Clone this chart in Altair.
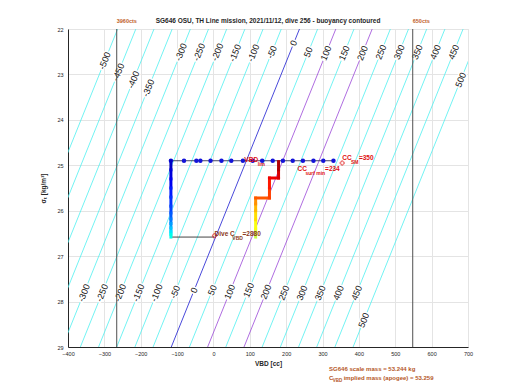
import altair as alt
import pandas as pd

# ---------------- data ----------------
# buoyancy contour levels [g]
levels = list(range(-500, 501, 50))
# VBD [cc] of the zero-buoyancy contour at sigma 22 (top) and 29 (bottom)
zero_vbd_top = 236.5
zero_vbd_bottom = -116.0
sigma_top = 22.0
sigma_bottom = 29.0
purple_levels = [100, 200]

# contour label rows (sigma where each label sits)
top_label_levels = list(range(-500, 501, 50))
top_label_sigma = [22.70, 22.95, 23.12, 23.30, 22.51, 22.51, 22.51, 22.53, 22.53, 22.51, 22.31,
                   22.51, 22.53, 22.53, 22.53, 22.51, 22.51, 22.51, 22.51, 22.51, 23.12]
bottom_label_levels = list(range(-300, 501, 50))
bottom_label_sigma = [27.81, 27.81, 27.81, 27.81, 27.81, 27.79, 27.75, 27.75, 27.79, 27.75,
                      27.79, 27.81, 27.81, 27.81, 27.81, 27.81, 28.41]

# VBD limits (counts marked at top)
limit_vbd = [-266, 548]
limit_text = ["3960cts", "650cts"]

# surface samples
surface_vbd = [-117, -81, -47, -36, -8, 22, 49, 81, 108, 134, 163, 191, 218, 246, 275, 302, 330]
surface_sigma = 24.90

# dive path: descent (VBD, sigma, time fraction)
descent_vbd = [-117] * 13
descent_sigma = [24.90, 25.10, 25.30, 25.50, 25.70, 25.90, 26.05, 26.18, 26.28, 26.38, 26.46, 26.52, 26.58]
descent_t = [0.07, 0.09, 0.11, 0.13, 0.14, 0.15, 0.17, 0.20, 0.24, 0.29, 0.34, 0.41, 0.50]
# climb
climb_vbd = [116, 116, 116, 116, 116, 116, 154, 154, 154, 179, 179, 179]
climb_sigma = [26.58, 26.40, 26.20, 26.00, 25.85, 25.72, 25.72, 25.50, 25.28, 25.28, 25.10, 24.92]
climb_t = [0.58, 0.62, 0.67, 0.72, 0.77, 0.83, 0.85, 0.87, 0.89, 0.91, 0.95, 0.99]

# dive C_VBD line
cvbd_line_vbd = [-117, 3]
cvbd_sigma = 26.58

# annotation markers
marker_vbd = [354, 240, 3]
marker_sigma = [24.95, 24.91, 26.55]
marker_shape = ["cross", "x", "cross"]

# annotation texts: text, vbd, sigma, size, colour
ann_text = ["VBD", "lim", "CC", "SM", "=350", "CC", "surf min", "=234",
            "Dive C", "VBD", "=2880",
            "SG646 scale mass = 53.244 kg", "C", "VBD", " implied mass (apogee) = 53.259"]
ann_vbd = [85, 122, 354, 378, 400, 231, 253, 307, 3, 52, 80, 318, 318, 328, 358]
ann_sigma = [24.88, 24.97, 24.83, 24.92, 24.83, 25.08, 25.16, 25.08, 26.51, 26.60, 26.51,
             29.48, 29.68, 29.74, 29.68]
ann_size = [6.5, 5, 6.5, 5, 6.5, 6.5, 5, 6.5, 6.5, 5, 6.5, 6, 6, 4.5, 6]
ann_color = ["#e01010"] * 8 + ["#8b3a1a"] * 3 + ["#b5571f"] * 4

title_text = "SG646 OSU, TH Line mission, 2021/11/12, dive 256 - buoyancy contoured"

# ---------------- tables ----------------
def contour_vbd(level, s):
    return level + zero_vbd_top + (zero_vbd_bottom - zero_vbd_top) * (s - sigma_top) / (sigma_bottom - sigma_top)

def kind(level):
    if level == 0:
        return "zero"
    if level in purple_levels:
        return "purple"
    return "cyan"

rows = []
for lv in levels:
    for s in (sigma_top, sigma_bottom):
        rows.append({"level": lv, "vbd": contour_vbd(lv, s), "sigma": s, "kind": kind(lv)})
contours = pd.DataFrame(rows)

lab_rows = []
for lv, s in zip(top_label_levels, top_label_sigma):
    lab_rows.append({"label": str(lv), "vbd": contour_vbd(lv, s), "sigma": s})
for lv, s in zip(bottom_label_levels, bottom_label_sigma):
    lab_rows.append({"label": str(lv), "vbd": contour_vbd(lv, s), "sigma": s})
labels = pd.DataFrame(lab_rows)

def segments(v, s, t):
    return pd.DataFrame({"vbd": v[:-1], "sigma": s[:-1], "vbd2": v[1:], "sigma2": s[1:], "t": t[:-1]})

seg = pd.concat([segments(descent_vbd, descent_sigma, descent_t),
                 segments(climb_vbd, climb_sigma, climb_t)], ignore_index=True)

surface = pd.DataFrame({"vbd": surface_vbd, "sigma": [surface_sigma] * len(surface_vbd)})
cvbd = pd.DataFrame({"vbd": cvbd_line_vbd, "sigma": [cvbd_sigma] * 2})
markers = pd.DataFrame({"vbd": marker_vbd, "sigma": marker_sigma, "shape": marker_shape})
ann = pd.DataFrame({"text": ann_text, "vbd": ann_vbd, "sigma": ann_sigma, "size": ann_size, "color": ann_color})
limits = pd.DataFrame({"vbd": limit_vbd, "text": limit_text, "sigma": [21.82, 21.82]})
title_df = pd.DataFrame({"vbd": [150], "sigma": [21.82], "text": [title_text]})

# ---------------- scales / axes ----------------
FONT = "Liberation Sans"
xs = alt.Scale(domain=[-400, 700], nice=False, zero=False)
ys = alt.Scale(domain=[22, 29], reverse=True, nice=False, zero=False)
xaxis = alt.Axis(values=list(range(-400, 701, 100)), title="VBD [cc]", format="d",
                 ticks=False, labelFontSize=5.5, labelColor="#262626", labelPadding=4,
                 labelFlush=False, labelOverlap=False,
                 titleFontSize=6.5, titleFontWeight="bold", titleColor="#262626", titlePadding=4,
                 labelFont=FONT, titleFont=FONT,
                 domainColor="#262626", gridColor="#e4e4e4", grid=True)
yaxis = alt.Axis(values=list(range(22, 30)), title="σₜ [kg/m³]", format="d",
                 ticks=False, labelFontSize=5.5, labelColor="#262626", labelPadding=5,
                 labelFlush=False, labelOverlap=False,
                 titleFontSize=6.5, titleFontWeight="bold", titleColor="#262626", titlePadding=10,
                 labelFont=FONT, titleFont=FONT,
                 domainColor="#262626", gridColor="#e4e4e4", grid=True)

def X(f="vbd"):
    return alt.X(f, type="quantitative", scale=xs, axis=xaxis)

def Y(f="sigma"):
    return alt.Y(f, type="quantitative", scale=ys, axis=yaxis)

jet = alt.Scale(domain=[0, 0.125, 0.375, 0.625, 0.875, 1.0],
                range=["#000080", "#0000ff", "#00ffff", "#ffff00", "#ff0000", "#800000"])

# ---------------- layers ----------------
contour_layer = alt.Chart(contours).mark_line(clip=True, strokeWidth=0.8).encode(
    x=X(), y=Y(), detail="level:N",
    color=alt.Color("kind:N", scale=alt.Scale(domain=["cyan", "zero", "purple"],
                                              range=["#4ef0f0", "#1a1ad0", "#9a48d8"]), legend=None),
)

label_halo = alt.Chart(labels).mark_text(angle=292, fontSize=9, font=FONT, fill="white",
                                         stroke="white", strokeWidth=3).encode(
    x=X(), y=Y(), text="label:N")
label_text = alt.Chart(labels).mark_text(angle=292, fontSize=9, font=FONT, color="#111111").encode(
    x=X(), y=Y(), text="label:N")

limit_lines = alt.Chart(limits).mark_rule(color="#505050", strokeWidth=1).encode(
    x=X(), y=alt.value(0), y2=alt.value(318))
limit_labels = alt.Chart(limits).mark_text(align="left", baseline="middle", fontSize=5.5,
                                           fontWeight="bold", font=FONT, color="#c0602a").encode(
    x=X(), y=Y(), text="text:N")
title_layer = alt.Chart(title_df).mark_text(align="center", baseline="middle", fontSize=6.5,
                                            fontWeight="bold", font=FONT, color="#262626").encode(
    x=X(), y=Y(), text="text:N")

cvbd_layer = alt.Chart(cvbd).mark_line(color="#303030", strokeWidth=0.9).encode(x=X(), y=Y())

path_layer = alt.Chart(seg).mark_rule(strokeWidth=3, strokeCap="square").encode(
    x=X(), y=Y(), x2="vbd2:Q", y2="sigma2:Q",
    color=alt.Color("t:Q", scale=jet, legend=None))

surf_line = alt.Chart(surface).mark_line(color="#303050", strokeWidth=0.9).encode(x=X(), y=Y())
surf_pts = alt.Chart(surface).mark_point(filled=True, color="#1414d8", size=20, opacity=1).encode(
    x=X(), y=Y())

marker_layer = alt.Chart(markers).mark_point(color="#e01010", size=18, strokeWidth=0.9).encode(
    x=X(), y=Y(), shape=alt.Shape("shape:N", scale=None))

ann_layer = alt.Chart(ann).mark_text(align="left", baseline="middle", font=FONT, fontWeight="bold").encode(
    x=X(), y=Y(), text="text:N",
    color=alt.Color("color:N", scale=None),
    size=alt.Size("size:Q", scale=None))

chart = alt.layer(
    contour_layer, label_halo, label_text, limit_lines, cvbd_layer, surf_line, surf_pts,
    path_layer, marker_layer, ann_layer, limit_labels, title_layer
).properties(
    width=400, height=318,
    autosize=alt.AutoSizeParams(type="none"),
    padding={"left": 60, "top": 21, "right": 40, "bottom": 35},
).configure_view(stroke="#262626", strokeWidth=1).configure(background="white")

chart.save("out.html", embed_options={"renderer": "svg", "actions": False})
